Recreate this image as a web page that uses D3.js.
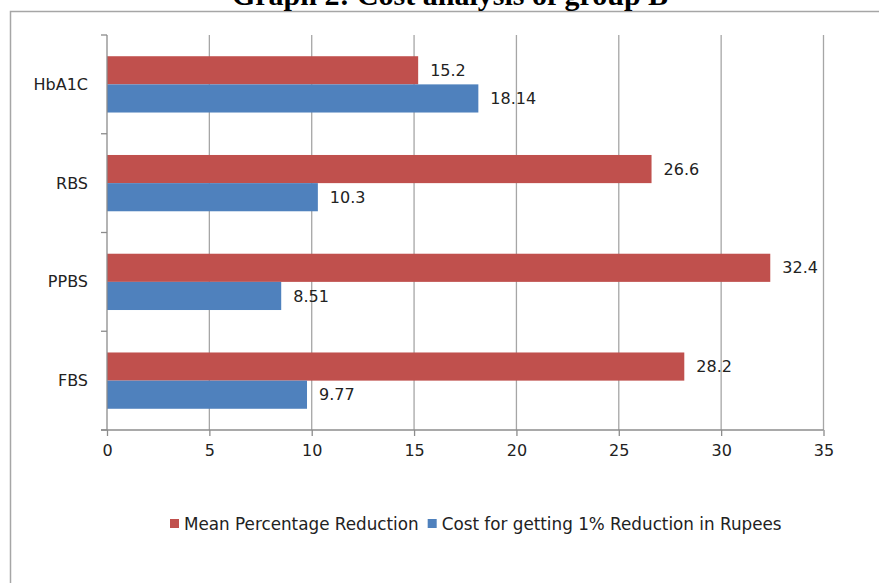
<!DOCTYPE html>
<html>
<head>
<meta charset="utf-8">
<script src="https://cdn.jsdelivr.net/npm/d3@7"></script>
<style>
  html, body { margin: 0; padding: 0; background: #fff; }
  svg { display: block; }
  text { font-family: "DejaVu Sans", sans-serif; fill: #222; }
</style>
</head>
<body>
<svg id="chart" width="879" height="583"></svg>
<script>
// Parameters (drawn top to bottom)
const categories = ["HbA1C", "RBS", "PPBS", "FBS"];
const meanReduction = [15.2, 26.6, 32.4, 28.2];
const costPerPercent = [18.14, 10.3, 8.51, 9.77];
const seriesNames = ["Mean Percentage Reduction", "Cost for getting 1% Reduction in Rupees"];
const seriesColors = ["#C0504D", "#4F81BD"];
const xTicks = [0, 5, 10, 15, 20, 25, 30, 35];

const svg = d3.select("#chart");

// Outer chart frame
svg.append("rect")
  .attr("x", 10.5).attr("y", 11.5)
  .attr("width", 900).attr("height", 600)
  .attr("fill", "none").attr("stroke", "#a6a6a6").attr("stroke-width", 1.5);

// Title (sits above the frame)
svg.append("text")
  .attr("x", 450).attr("y", 5)
  .attr("text-anchor", "middle")
  .style("font-family", "'Liberation Serif', serif")
  .style("font-weight", "bold")
  .style("font-size", "30px")
  .style("fill", "#000")
  .text("Graph 2: Cost analysis of group B");

const plot = { left: 107, right: 823.5, top: 35, bottom: 430 };
const fontSize = "16px";

const x = d3.scaleLinear().domain([0, 35]).range([plot.left, plot.right]);
const y = d3.scaleBand().domain(categories).range([plot.top, plot.bottom])
  .paddingInner(0.43).paddingOuter(0.215);
const yStep = d3.scaleBand().domain(categories).range([plot.top, plot.bottom]);
const ySub = d3.scaleBand().domain([0, 1]).range([0, y.bandwidth()]);

// Vertical gridlines
svg.append("g").selectAll("line")
  .data(xTicks.filter(d => d > 0))
  .join("line")
  .attr("x1", d => x(d)).attr("x2", d => x(d))
  .attr("y1", plot.top).attr("y2", plot.bottom)
  .attr("stroke", "#a6a6a6").attr("stroke-width", 1.3);

// Bars
const rows = categories.map((c, i) => ({ c, vals: [meanReduction[i], costPerPercent[i]] }));
const groups = svg.append("g").selectAll("g")
  .data(rows).join("g")
  .attr("transform", d => `translate(0,${y(d.c)})`);

groups.selectAll("rect")
  .data(d => d.vals.map((v, k) => ({ v, k })))
  .join("rect")
  .attr("x", x(0))
  .attr("y", d => ySub(d.k))
  .attr("width", d => x(d.v) - x(0))
  .attr("height", ySub.bandwidth())
  .attr("fill", d => seriesColors[d.k]);

groups.selectAll("text")
  .data(d => d.vals.map((v, k) => ({ v, k })))
  .join("text")
  .attr("x", d => x(d.v) + 12)
  .attr("y", d => ySub(d.k) + ySub.bandwidth() / 2)
  .attr("dy", "0.35em")
  .style("font-size", fontSize)
  .text(d => d.v);

// Y axis
const yAxis = svg.append("g");
yAxis.append("line")
  .attr("x1", plot.left).attr("x2", plot.left)
  .attr("y1", plot.top).attr("y2", plot.bottom)
  .attr("stroke", "#8c8c8c").attr("stroke-width", 1.3);
yAxis.selectAll("line.tick")
  .data(categories.concat(["end"]))
  .join("line").attr("class", "tick")
  .attr("x1", plot.left - 6).attr("x2", plot.left)
  .attr("y1", (d, i) => i < categories.length ? yStep(d) : plot.bottom)
  .attr("y2", (d, i) => i < categories.length ? yStep(d) : plot.bottom)
  .attr("stroke", "#8c8c8c").attr("stroke-width", 1.3);
yAxis.selectAll("text")
  .data(categories).join("text")
  .attr("x", 88)
  .attr("y", d => yStep(d) + yStep.bandwidth() / 2)
  .attr("dy", "0.35em")
  .attr("text-anchor", "end")
  .style("font-size", fontSize)
  .text(d => d);

// X axis
const xAxis = d3.axisBottom(x).tickValues(xTicks).tickSize(6).tickPadding(9);
const gx = svg.append("g").attr("transform", `translate(0,${plot.bottom})`).call(xAxis);
gx.select(".domain").remove();
gx.append("line")
  .attr("x1", plot.left - 6).attr("x2", plot.right)
  .attr("stroke", "#8c8c8c").attr("stroke-width", 1.3);
gx.selectAll(".tick line").attr("stroke", "#8c8c8c").attr("stroke-width", 1.3);
gx.selectAll(".tick text")
  .style("font-family", "'DejaVu Sans', sans-serif")
  .style("font-size", fontSize).style("fill", "#222");

// Legend
const legend = svg.append("g").attr("transform", "translate(170,524)");
let lx = 0;
seriesNames.forEach((name, k) => {
  legend.append("rect")
    .attr("x", lx).attr("y", -5).attr("width", 9).attr("height", 9)
    .attr("fill", seriesColors[k]);
  const t = legend.append("text")
    .attr("x", lx + 14).attr("y", 0).attr("dy", "0.35em")
    .style("font-size", "16.8px").text(name);
  lx += 14 + t.node().getComputedTextLength() + 9;
});
</script>
</body>
</html>
